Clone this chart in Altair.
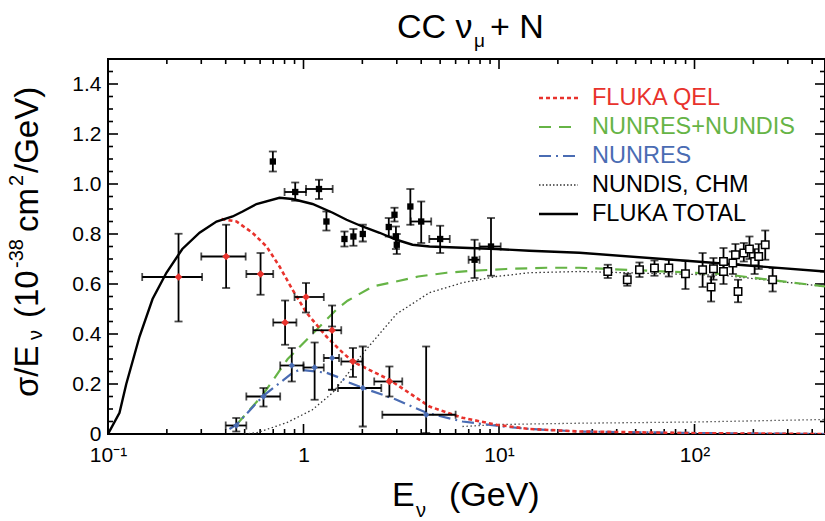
import altair as alt
import pandas as pd

# ---------------- data ----------------
# model curves
total_E = [0.1, 0.1145, 0.124, 0.145, 0.169, 0.199, 0.240, 0.294, 0.359, 0.434, 0.488, 0.575, 0.754, 0.879,
           1.112, 1.41, 1.66, 2.00, 2.45, 2.99, 3.61, 4.41, 6.51, 9.7, 14.3, 25.8, 102, 465]
total_y = [0.0, 0.085, 0.2, 0.39, 0.54, 0.645, 0.74, 0.805, 0.85, 0.87, 0.89, 0.92, 0.945, 0.94,
           0.92, 0.885, 0.857, 0.83, 0.805, 0.777, 0.757, 0.75, 0.745, 0.74, 0.733, 0.725, 0.69, 0.65]

qel_E = [0.381, 0.454, 0.548, 0.647, 0.754, 0.879, 1.036, 1.31, 1.53, 1.78, 2.75, 4.41, 6.5, 9.7, 14.3, 25.8, 105, 465]
qel_y = [0.86, 0.85, 0.805, 0.75, 0.67, 0.577, 0.485, 0.39, 0.337, 0.29, 0.217, 0.11, 0.065, 0.037, 0.02, 0.01, 0.003, 0.0]

res_E = [0.418, 0.454, 0.617, 0.879, 0.955, 1.31, 1.53, 1.72, 2.0, 2.97, 4.26, 6.5, 9.7, 14.3, 25.8, 100, 465]
res_y = [0.02, 0.037, 0.15, 0.245, 0.257, 0.245, 0.225, 0.205, 0.185, 0.138, 0.085, 0.05, 0.033, 0.02, 0.01, 0.004, 0.0]

resdis_E = [0.454, 0.617, 0.83, 1.11, 1.47, 1.68, 2.26, 2.97, 3.86, 5.4, 7.3, 10.9, 17.5, 25.8, 139, 465]
resdis_y = [0.037, 0.155, 0.30, 0.40, 0.497, 0.533, 0.59, 0.61, 0.63, 0.645, 0.653, 0.66, 0.665, 0.665, 0.64, 0.59]

dis_E = [0.499, 0.575, 0.82, 1.11, 1.41, 1.72, 2.0, 2.99, 4.4, 6.5, 9.7, 14.3, 25.8, 139, 465]
dis_y = [0.0, 0.005, 0.045, 0.097, 0.165, 0.25, 0.32, 0.48, 0.565, 0.605, 0.63, 0.645, 0.65, 0.635, 0.59]

low_E = [6.5, 10, 25, 100, 465]
low_y = [0.03, 0.038, 0.043, 0.048, 0.058]

# red points (QEL data)
red_E = [0.2295, 0.402, 0.603, 0.805, 1.03, 1.40, 1.79, 2.75]
red_y = [0.628, 0.710, 0.640, 0.446, 0.548, 0.415, 0.290, 0.210]
red_ylo = [0.450, 0.584, 0.557, 0.357, 0.486, 0.177, 0.228, 0.150]
red_yhi = [0.801, 0.837, 0.724, 0.534, 0.604, 0.514, 0.344, 0.270]
red_Elo = [0.1496, 0.300, 0.51, 0.70, 0.90, 1.12, 1.56, 2.3]
red_Ehi = [0.303, 0.506, 0.70, 0.92, 1.27, 1.56, 2.0, 3.2]

# blue points (resonance data)
blue_E = [0.453, 0.624, 0.871, 1.14, 1.40, 2.01, 4.24]
blue_y = [0.034, 0.150, 0.274, 0.266, 0.304, 0.184, 0.077]
blue_ylo = [0.01, 0.11, 0.21, 0.137, 0.177, 0.03, 0.004]
blue_yhi = [0.064, 0.184, 0.344, 0.366, 0.43, 0.35, 0.35]
blue_Elo = [0.40, 0.51, 0.76, 1.0, 1.27, 1.5, 2.53]
blue_Ehi = [0.51, 0.76, 1.0, 1.27, 1.52, 2.5, 6.0]

# filled squares (total data)
sq_E = [0.697, 0.907, 1.20, 1.31, 1.62, 1.80, 2.01, 2.73, 2.92, 2.97, 3.0, 3.52, 4.0, 5.0, 7.5, 9.1]
sq_y = [1.09, 0.968, 0.98, 0.85, 0.78, 0.79, 0.80, 0.828, 0.877, 0.79, 0.757, 0.91, 0.85, 0.78, 0.697, 0.75]
sq_ylo = [1.05, 0.933, 0.94, 0.814, 0.75, 0.753, 0.77, 0.79, 0.85, 0.74, 0.72, 0.837, 0.764, 0.724, 0.624, 0.633]
sq_yhi = [1.13, 1.006, 1.017, 0.89, 0.81, 0.82, 0.837, 0.864, 0.905, 0.83, 0.80, 0.98, 0.93, 0.833, 0.777, 0.864]
sq_Elo = [None, 0.80, 1.03, None, None, None, None, None, None, None, None, None, 3.54, 4.4, 6.99, 7.95]
sq_Ehi = [None, 1.03, 1.41, None, None, None, None, None, None, None, None, None, 4.5, 5.6, 7.95, 10.2]

# open squares (high-energy total data)
osq_E = [36.0, 45.3, 52.3, 62.4, 73.9, 89.9, 110, 121.6, 125, 140.7, 140.7, 157, 162, 167, 178.7, 191, 203, 213, 230, 251]
osq_y = [0.65, 0.617, 0.657, 0.664, 0.664, 0.641, 0.657, 0.588, 0.661, 0.69, 0.65, 0.684, 0.717, 0.57, 0.724, 0.74, 0.69, 0.71, 0.757, 0.617]
osq_ylo = [0.624, 0.593, 0.628, 0.633, 0.63, 0.58, 0.588, 0.53, 0.617, 0.637, 0.60, 0.64, 0.68, 0.527, 0.69, 0.70, 0.64, 0.66, 0.697, 0.57]
osq_yhi = [0.677, 0.641, 0.686, 0.694, 0.697, 0.693, 0.724, 0.63, 0.704, 0.744, 0.70, 0.73, 0.76, 0.617, 0.764, 0.79, 0.74, 0.76, 0.814, 0.664]

# axis ticks
x_major = [1, 10, 100]
x_minor = [0.2, 0.3, 0.4, 0.5, 0.6, 0.7, 0.8, 0.9, 2, 3, 4, 5, 6, 7, 8, 9, 20, 30, 40, 50, 60, 70, 80, 90, 200, 300, 400]
x_labels = [0.1, 1, 10, 100]
y_major = [0.2, 0.4, 0.6, 0.8, 1.0, 1.2, 1.4]
y_minor = [0.05, 0.1, 0.15, 0.25, 0.3, 0.35, 0.45, 0.5, 0.55, 0.65, 0.7, 0.75, 0.85, 0.9, 0.95,
           1.05, 1.1, 1.15, 1.25, 1.3, 1.35, 1.45]
y_labels = [0, 0.2, 0.4, 0.6, 0.8, 1.0, 1.2, 1.4]

legend_labels = ["FLUKA QEL", "NUNRES+NUNDIS", "NUNRES", "NUNDIS, CHM", "FLUKA TOTAL"]

# ---------------- styling ----------------
W, H = 717, 375
REG = "Liberation Sans, Arial"
RED = "#e8322c"
GREEN = "#66b446"
BLUE = "#4a6cb3"

xscale = alt.Scale(type="log", domain=[0.1, 465], nice=False)
yscale = alt.Scale(domain=[0, 1.5], nice=False, zero=False)

x_axis = alt.Axis(values=x_labels, tickSize=0, domain=False, grid=False, title=None,
                  labelFont=REG, labelFontSize=21, labelColor="black", labelPadding=10,
                  labelFlush=False, labelOverlap=False, labelBound=False,
                  labelExpr="datum.value < 0.5 ? '10⁻¹' : datum.value < 5 ? '1' : datum.value < 50 ? '10¹' : '10²'")
y_axis = alt.Axis(values=y_labels, tickSize=0, domain=False, grid=False, title=None,
                  labelFont=REG, labelFontSize=21, labelColor="black", labelPadding=7,
                  labelFlush=False, labelOverlap=False, labelBound=False,
                  labelExpr="datum.value == 0 ? '0' : format(datum.value, '.1f')")


def X(f):
    return alt.X(f"{f}:Q", scale=xscale, axis=x_axis)


def Y(f):
    return alt.Y(f"{f}:Q", scale=yscale, axis=y_axis)


def curve(E, y, color, width, dash=None):
    kw = dict(color=color, strokeWidth=width, clip=True)
    if dash:
        kw["strokeDash"] = dash
    return alt.Chart(pd.DataFrame({"E": E, "y": y})).mark_line(**kw).encode(x=X("E"), y=Y("y"), order="E:Q")


def errbars(E, y, ylo, yhi, Elo=None, Ehi=None):
    df = pd.DataFrame({"E": E, "y": y, "ylo": ylo, "yhi": yhi})
    lay = [
        alt.Chart(df).mark_rule(color="black", strokeWidth=1.8).encode(x=X("E"), y=Y("ylo"), y2="yhi:Q"),
        alt.Chart(df).mark_tick(color="black", orient="horizontal", size=8, thickness=1.8).encode(x=X("E"), y=Y("ylo")),
        alt.Chart(df).mark_tick(color="black", orient="horizontal", size=8, thickness=1.8).encode(x=X("E"), y=Y("yhi")),
    ]
    if Elo is not None:
        dx = pd.DataFrame({"y": y, "Elo": Elo, "Ehi": Ehi}).dropna()
        lay += [
            alt.Chart(dx).mark_rule(color="black", strokeWidth=1.8).encode(x=X("Elo"), x2="Ehi:Q", y=Y("y")),
            alt.Chart(dx).mark_tick(color="black", orient="vertical", size=8, thickness=1.8).encode(x=X("Elo"), y=Y("y")),
            alt.Chart(dx).mark_tick(color="black", orient="vertical", size=8, thickness=1.8).encode(x=X("Ehi"), y=Y("y")),
        ]
    return lay


def txt(s, x, y, size, font, color="black", angle=0, align="left", baseline="alphabetic"):
    kw = dict(font=font, fontSize=size, color=color, align=align, baseline=baseline)
    if angle:
        kw["angle"] = angle
    return alt.Chart(pd.DataFrame({"t": [s]})).mark_text(**kw).encode(
        x=alt.value(x), y=alt.value(y), text="t:N")


layers = []

# ticks (inward, on all four sides)
for vals, ln in ((x_major, 10), (x_minor, 5)):
    d = pd.DataFrame({"E": vals})
    layers.append(alt.Chart(d).mark_rule(color="black", strokeWidth=1.6).encode(x=X("E"), y=alt.value(H), y2=alt.value(H - ln)))
    layers.append(alt.Chart(d).mark_rule(color="black", strokeWidth=1.6).encode(x=X("E"), y=alt.value(0), y2=alt.value(ln)))
for vals, ln in ((y_major, 10), (y_minor, 5)):
    d = pd.DataFrame({"v": vals})
    layers.append(alt.Chart(d).mark_rule(color="black", strokeWidth=1.6).encode(y=Y("v"), x=alt.value(0), x2=alt.value(ln)))
    layers.append(alt.Chart(d).mark_rule(color="black", strokeWidth=1.6).encode(y=Y("v"), x=alt.value(W), x2=alt.value(W - ln)))

# curves
layers.append(curve(low_E, low_y, "#555555", 1.3, [1.5, 2.5]))
layers.append(curve(dis_E, dis_y, "#333333", 1.3, [1.5, 2.5]))
layers.append(curve(resdis_E, resdis_y, GREEN, 2.2, [12, 8]))
layers.append(curve(res_E, res_y, BLUE, 2.2, [12, 5, 2, 5]))
layers.append(curve(qel_E, qel_y, RED, 2.6, [4, 3]))
layers.append(curve(total_E, total_y, "black", 2.4))

# error bars
layers += errbars(red_E, red_y, red_ylo, red_yhi, red_Elo, red_Ehi)
layers += errbars(blue_E, blue_y, blue_ylo, blue_yhi, blue_Elo, blue_Ehi)
layers += errbars(sq_E, sq_y, sq_ylo, sq_yhi, sq_Elo, sq_Ehi)
layers += errbars(osq_E, osq_y, osq_ylo, osq_yhi)

# markers
layers.append(alt.Chart(pd.DataFrame({"E": red_E, "y": red_y})).mark_point(
    shape="diamond", filled=True, color=RED, size=60, opacity=1).encode(x=X("E"), y=Y("y")))
layers.append(alt.Chart(pd.DataFrame({"E": blue_E, "y": blue_y})).mark_point(
    shape="diamond", filled=True, color=BLUE, size=40, opacity=1).encode(x=X("E"), y=Y("y")))
layers.append(alt.Chart(pd.DataFrame({"E": sq_E, "y": sq_y})).mark_point(
    shape="square", filled=True, color="black", size=40, opacity=1).encode(x=X("E"), y=Y("y")))
layers.append(alt.Chart(pd.DataFrame({"E": osq_E, "y": osq_y})).mark_point(
    shape="square", filled=True, fill="white", stroke="black", strokeWidth=1.5, size=55, opacity=1).encode(x=X("E"), y=Y("y")))

# legend (manual, inside the plot)
leg_y = [39, 68, 97, 126, 155]
leg_col = [RED, GREEN, BLUE, "black", "black"]
leg_dash = [[4, 3], [12, 8], [12, 5, 2, 5], [1.5, 2], None]
leg_w = [2.6, 2.2, 2.2, 1.3, 2.4]
for lab, ly, c, dsh, lw in zip(legend_labels, leg_y, leg_col, leg_dash, leg_w):
    kw = dict(color=c if lab != "NUNDIS, CHM" else "#333333", strokeWidth=lw)
    if dsh:
        kw["strokeDash"] = dsh
    layers.append(alt.Chart(pd.DataFrame({"t": [lab]})).mark_rule(**kw).encode(
        x=alt.value(431), x2=alt.value(470), y=alt.value(ly)))
    layers.append(txt(lab, 484, ly, 23.5, REG, color=c, baseline="middle"))

# title  CC ν_μ + N
layers.append(txt("CC ν", 289, -21, 34, REG))
layers.append(txt("μ", 366, -12, 19, REG))
layers.append(txt("+ N", 382, -21, 34, REG))

# x title  E_ν (GeV)
layers.append(txt("E", 284, 447, 34, REG))
layers.append(txt("ν", 308, 458, 20, REG))
layers.append(txt("(GeV)", 341, 447, 34, REG))

# y title  σ/E_ν (10^-38 cm^2/GeV), rotated
layers.append(txt("σ/E", -70, 338, 33, REG, angle=270))
layers.append(txt("ν", -66, 281, 20, REG, angle=270))
layers.append(txt("(10", -70, 259, 33, REG, angle=270))
layers.append(txt("-38", -85, 209, 20, REG, angle=270))
layers.append(txt("cm", -70, 173, 33, REG, angle=270))
layers.append(txt("2", -85, 127, 20, REG, angle=270))
layers.append(txt("/GeV)", -70, 114, 33, REG, angle=270))

chart = alt.layer(*layers).properties(
    width=W, height=H,
    padding={"left": 108, "top": 59, "right": 0, "bottom": 87},
    autosize=alt.AutoSizeParams(type="none"),
    background="white",
).configure_view(stroke="black", strokeWidth=2)

chart.save("out.html", embed_options={"renderer": "svg", "actions": False})
